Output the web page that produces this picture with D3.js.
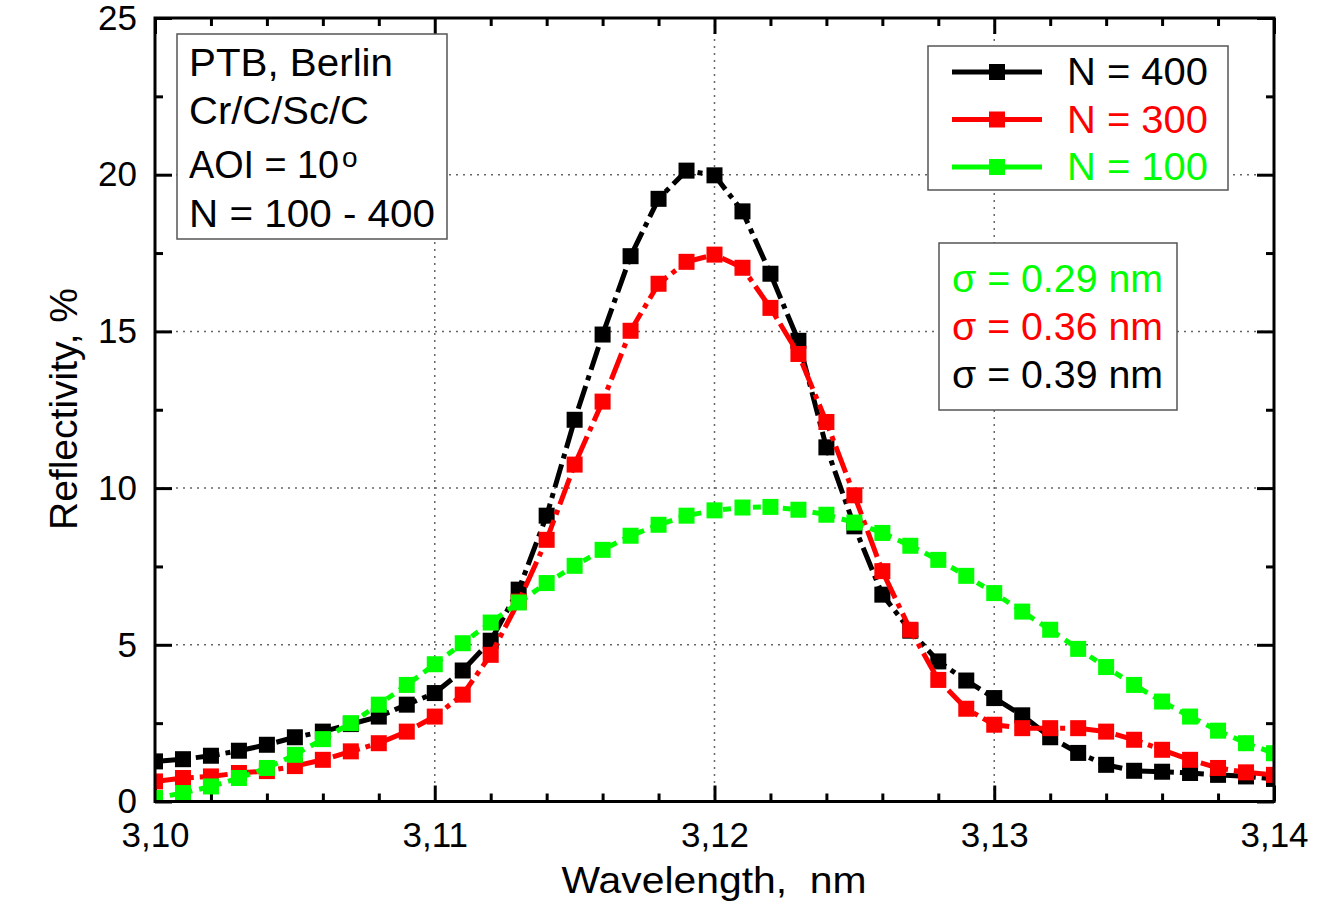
<!DOCTYPE html>
<meta charset="utf-8">
<head>
	<script src="https://d3js.org/d3.v7.min.js"></script>
	<style>
		body { margin: 0; background: #fff; }
		text { font-family: "Liberation Sans", Arial, sans-serif; }
		.grid line { stroke: #666; stroke-width: 1.5px; stroke-dasharray: 2,5; }
		.axis path { display: none; }
		.axis line { stroke: #000; stroke-width: 3px; }
		.axis text { font-size: 35px; fill: #000; font-family: "Liberation Sans", Arial, sans-serif; }
		.box { fill: #fff; stroke: #555; stroke-width: 1.5px; }
	</style>
</head>
<body>
<div id="chart"></div>
<script>
// wavelength, nm (one point every 0.001 nm)
var wavelength = [3.100, 3.101, 3.102, 3.103, 3.104, 3.105, 3.106, 3.107, 3.108, 3.109,
                  3.110, 3.111, 3.112, 3.113, 3.114, 3.115, 3.116, 3.117, 3.118, 3.119,
                  3.120, 3.121, 3.122, 3.123, 3.124, 3.125, 3.126, 3.127, 3.128, 3.129,
                  3.130, 3.131, 3.132, 3.133, 3.134, 3.135, 3.136, 3.137, 3.138, 3.139, 3.140];
// reflectivity, %
var refl400 = [1.28, 1.35, 1.46, 1.62, 1.81, 2.05, 2.23, 2.47, 2.71, 3.09,
               3.46, 4.18, 5.13, 6.76, 9.12, 12.18, 14.9, 17.4, 19.23, 20.13,
               19.98, 18.83, 16.84, 14.7, 11.3, 8.78, 6.6, 5.45, 4.47, 3.86,
               3.3, 2.75, 2.05, 1.55, 1.17, 0.98, 0.95, 0.91, 0.85, 0.8, 0.72];
var refl300 = [0.64, 0.75, 0.8, 0.91, 0.97, 1.13, 1.33, 1.6, 1.86, 2.23,
               2.71, 3.41, 4.68, 6.38, 8.35, 10.75, 12.76, 15.02, 16.52, 17.22,
               17.45, 17.03, 15.75, 14.28, 12.11, 9.77, 7.35, 5.48, 3.88, 2.96,
               2.45, 2.34, 2.34, 2.34, 2.23, 1.97, 1.65, 1.33, 1.07, 0.93, 0.85];
var refl100 = [0.11, 0.27, 0.48, 0.75, 1.07, 1.49, 1.99, 2.5, 3.09, 3.72,
               4.38, 5.05, 5.71, 6.35, 6.97, 7.52, 8.03, 8.48, 8.83, 9.12,
               9.29, 9.38, 9.4, 9.31, 9.15, 8.9, 8.57, 8.16, 7.71, 7.2,
               6.65, 6.06, 5.48, 4.87, 4.29, 3.72, 3.19, 2.71, 2.26, 1.86, 1.54];

var seriesNames = ["N = 400", "N = 300", "N = 100"];
var seriesColors = ["#000000", "#ff0000", "#00ff00"];
var seriesDash = ["24,6,5,6", "28,6,5,6", "8,7"];

var xTicks = [3.10, 3.11, 3.12, 3.13, 3.14];
var xTickLabels = ["3,10", "3,11", "3,12", "3,13", "3,14"];
var xMinor = [3.102, 3.104, 3.106, 3.108, 3.112, 3.114, 3.116, 3.118, 3.122, 3.124, 3.126, 3.128, 3.132, 3.134, 3.136, 3.138];
var yTicks = [0, 5, 10, 15, 20, 25];
var yMinor = [2.5, 7.5, 12.5, 17.5, 22.5];

var infoLines = ["PTB, Berlin", "Cr/C/Sc/C", "AOI = 10", "N = 100 - 400"];
var sigmaLines = ["\u03c3 = 0.29 nm", "\u03c3 = 0.36 nm", "\u03c3 = 0.39 nm"];
var sigmaColors = ["#00ff00", "#ff0000", "#000000"];

var W = 1317, H = 916;
var pL = 155, pR = 1274, pT = 18, pB = 801.5;

var svg = d3.select("#chart").append("svg")
	.attr("width", W).attr("height", H);

var x = d3.scaleLinear().domain([3.10, 3.14]).range([pL, pR]);
var y = d3.scaleLinear().domain([0, 25]).range([pB, pT]);

// grid
var grid = svg.append("g").attr("class", "grid");
grid.selectAll(".gx").data(xTicks.slice(1, -1)).enter().append("line")
	.attr("x1", d => x(d)).attr("x2", d => x(d)).attr("y1", pT).attr("y2", pB);
grid.selectAll(".gy").data(yTicks.slice(1, -1)).enter().append("line")
	.attr("y1", d => y(d)).attr("y2", d => y(d)).attr("x1", pL).attr("x2", pR);

// axes, ticks pointing inwards on all sides
svg.append("g").attr("class", "axis").attr("transform", "translate(0," + pB + ")")
	.call(d3.axisBottom(x).tickValues(xTicks).tickSizeInner(-16).tickSizeOuter(0).tickPadding(21)
		.tickFormat((d, i) => xTickLabels[i]));
svg.append("g").attr("class", "axis").attr("transform", "translate(0," + pB + ")")
	.call(d3.axisBottom(x).tickValues(xMinor).tickSizeInner(-8).tickSizeOuter(0).tickFormat(""));
svg.append("g").attr("class", "axis").attr("transform", "translate(0," + pT + ")")
	.call(d3.axisTop(x).tickValues(xTicks).tickSizeInner(-16).tickSizeOuter(0).tickFormat(""));
svg.append("g").attr("class", "axis").attr("transform", "translate(0," + pT + ")")
	.call(d3.axisTop(x).tickValues(xMinor).tickSizeInner(-8).tickSizeOuter(0).tickFormat(""));
svg.append("g").attr("class", "axis").attr("transform", "translate(" + pL + ",0)")
	.call(d3.axisLeft(y).tickValues(yTicks).tickSizeInner(-17).tickSizeOuter(0).tickPadding(18));
svg.append("g").attr("class", "axis").attr("transform", "translate(" + pL + ",0)")
	.call(d3.axisLeft(y).tickValues(yMinor).tickSizeInner(-8).tickSizeOuter(0).tickFormat(""));
svg.append("g").attr("class", "axis").attr("transform", "translate(" + pR + ",0)")
	.call(d3.axisRight(y).tickValues(yTicks).tickSizeInner(-17).tickSizeOuter(0).tickFormat(""));
svg.append("g").attr("class", "axis").attr("transform", "translate(" + pR + ",0)")
	.call(d3.axisRight(y).tickValues(yMinor).tickSizeInner(-8).tickSizeOuter(0).tickFormat(""));

// data
svg.append("clipPath").attr("id", "plotclip").append("rect")
	.attr("x", pL).attr("y", pT).attr("width", pR - pL).attr("height", pB - pT);
var plot = svg.append("g").attr("clip-path", "url(#plotclip)");

var allSeries = [refl400, refl300, refl100];
var line = d3.line().x((d, i) => x(wavelength[i])).y(d => y(d));
var ms = 16;

allSeries.forEach(function(vals, s) {
	plot.append("path")
		.attr("d", line(vals))
		.attr("fill", "none")
		.attr("stroke", seriesColors[s])
		.attr("stroke-width", 5)
		.attr("stroke-dasharray", seriesDash[s]);
	plot.selectAll(".m" + s).data(vals).enter().append("rect")
		.attr("x", (d, i) => x(wavelength[i]) - ms / 2)
		.attr("y", d => y(d) - ms / 2)
		.attr("width", ms).attr("height", ms)
		.attr("fill", seriesColors[s]);
});

// frame
svg.append("rect").attr("x", pL).attr("y", pT)
	.attr("width", pR - pL).attr("height", pB - pT)
	.attr("fill", "none").attr("stroke", "#000").attr("stroke-width", 3);

// axis titles
svg.append("text").attr("x", 714).attr("y", 893).attr("text-anchor", "middle")
	.style("font-size", "36px").style("white-space", "pre")
	.attr("textLength", 305).attr("lengthAdjust", "spacingAndGlyphs")
	.text("Wavelength,  nm");
svg.append("text").attr("transform", "translate(77,409) rotate(-90)").attr("text-anchor", "middle")
	.style("font-size", "38px").attr("textLength", 242).attr("lengthAdjust", "spacingAndGlyphs")
	.text("Reflectivity, %");

// info box
svg.append("rect").attr("class", "box").attr("x", 177).attr("y", 34).attr("width", 270).attr("height", 205);
var infoY = [76, 124, 178, 227];
var infoLen = [204, 180, 150, 246];
infoLines.forEach(function(t, i) {
	svg.append("text").attr("x", 189).attr("y", infoY[i]).style("font-size", "39px")
		.attr("textLength", infoLen[i]).attr("lengthAdjust", "spacingAndGlyphs").text(t);
});
svg.append("text").attr("x", 342).attr("y", 167).style("font-size", "28px").text("o");

// series legend
svg.append("rect").attr("class", "box").attr("x", 928).attr("y", 46).attr("width", 300).attr("height", 144);
var legY = [72, 119.5, 167];
seriesNames.forEach(function(n, i) {
	svg.append("line").attr("x1", 952).attr("x2", 1042).attr("y1", legY[i]).attr("y2", legY[i])
		.attr("stroke", seriesColors[i]).attr("stroke-width", 5);
	svg.append("rect").attr("x", 997 - ms / 2).attr("y", legY[i] - ms / 2).attr("width", ms).attr("height", ms)
		.attr("fill", seriesColors[i]);
	svg.append("text").attr("x", 1067).attr("y", legY[i] + 13).style("font-size", "38px")
		.attr("textLength", 141).attr("lengthAdjust", "spacingAndGlyphs")
		.attr("fill", seriesColors[i]).text(n);
});

// roughness box
svg.append("rect").attr("class", "box").attr("x", 939).attr("y", 243).attr("width", 238).attr("height", 167);
var sigY = [292, 340, 388];
sigmaLines.forEach(function(t, i) {
	svg.append("text").attr("x", 952).attr("y", sigY[i]).style("font-size", "38px")
		.attr("textLength", 211).attr("lengthAdjust", "spacingAndGlyphs")
		.attr("fill", sigmaColors[i]).text(t);
});
</script>
</body>
</html>
